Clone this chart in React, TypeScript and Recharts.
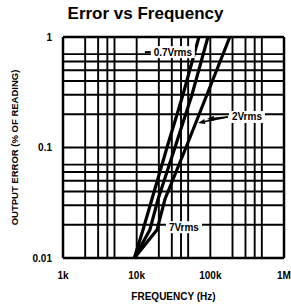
import { LineChart, Line, XAxis, YAxis, CartesianGrid, ReferenceDot, ReferenceLine } from 'recharts';

// Axis ticks and labels
const freqTicks = [1000, 10000, 100000, 1000000];
const freqTickLabels = ['1k', '10k', '100k', '1M'];
const errorTicks = [0.01, 0.1, 1];
const errorTickLabels = ['0.01', '0.1', '1'];

// Log grid lines (1..9 per decade)
const freqGrid = [
  1000, 2000, 3000, 4000, 5000, 6000, 7000, 8000, 9000,
  10000, 20000, 30000, 40000, 50000, 60000, 70000, 80000, 90000,
  100000, 200000, 300000, 400000, 500000, 600000, 700000, 800000, 900000,
  1000000,
];
const errorGrid = [
  0.01, 0.02, 0.03, 0.04, 0.05, 0.06, 0.07, 0.08, 0.09,
  0.1, 0.2, 0.3, 0.4, 0.5, 0.6, 0.7, 0.8, 0.9,
  1,
];

// Curves (Hz, % of reading)
const freq07 = [9300, 12200, 16100, 25800, 42500, 70000];
const err07 = [0.01, 0.018, 0.034, 0.1, 0.3, 1];
const freq2 = [9300, 15100, 19500, 33100, 56300, 92800];
const err2 = [0.01, 0.018, 0.034, 0.1, 0.3, 1];
const freq7 = [9300, 18900, 24200, 46700, 89900, 184000];
const err7 = [0.01, 0.018, 0.034, 0.1, 0.3, 1];

const toPoints = (f: number[], e: number[]) => f.map((v, i) => ({ f: v, e: e[i] }));
const data07 = toPoints(freq07, err07);
const data2 = toPoints(freq2, err2);
const data7 = toPoints(freq7, err7);

const FONT = "'Liberation Sans', Arial, Helvetica, sans-serif";

function BoxLabel({ cx, cy, text, w, lead }: any) {
  return (
    <g>
      {lead && <line x1={cx - w / 2 - 6} y1={cy} x2={cx - w / 2} y2={cy} stroke="#000" strokeWidth={2} />}
      <rect x={cx - w / 2} y={cy - 6} width={w} height={12} fill="#fff" />
      <text
        x={cx}
        y={cy}
        textAnchor="middle"
        dominantBaseline="central"
        fontFamily={FONT}
        fontWeight={700}
        fontSize={10}
        fill="#000"
      >
        {text}
      </text>
    </g>
  );
}

function Arrow(props: any) {
  const { x1, y1, x2, y2 } = props;
  if (x1 == null) return null;
  const dx = x2 - x1;
  const dy = y2 - y1;
  const len = Math.sqrt(dx * dx + dy * dy) || 1;
  const ux = dx / len;
  const uy = dy / len;
  const bx = x2 - ux * 7;
  const by = y2 - uy * 7;
  return (
    <g>
      <line x1={x1} y1={y1} x2={bx} y2={by} stroke="#000" strokeWidth={1.5} />
      <polygon
        points={`${x2},${y2} ${bx - uy * 2.5},${by + ux * 2.5} ${bx + uy * 2.5},${by - ux * 2.5}`}
        fill="#000"
      />
    </g>
  );
}

function YLabel(props: any) {
  const vb = props.viewBox || {};
  const cy = vb.y + vb.height / 2;
  return (
    <text
      x={14}
      y={cy}
      transform={`rotate(-90 14 ${cy})`}
      textAnchor="middle"
      dominantBaseline="central"
      fontFamily={FONT}
      fontWeight={700}
      fontSize={9.5}
      fill="#000"
    >
      OUTPUT ERROR (% OF READING)
    </text>
  );
}

function XLabel(props: any) {
  const vb = props.viewBox || {};
  return (
    <text
      x={vb.x + vb.width / 2}
      y={296}
      textAnchor="middle"
      dominantBaseline="central"
      fontFamily={FONT}
      fontWeight={700}
      fontSize={10}
      fill="#000"
    >
      FREQUENCY (Hz)
    </text>
  );
}

export default function App() {
  return (
    <div style={{ position: 'absolute', left: 0, top: 0, width: 291, height: 308, background: '#fff' }}>
      <div
        style={{
          position: 'absolute',
          left: 0,
          width: 291,
          top: 4,
          textAlign: 'center',
          fontFamily: FONT,
          fontWeight: 700,
          fontSize: 17,
          lineHeight: '20px',
          color: '#000',
        }}
      >
        Error vs Frequency
      </div>
      <LineChart width={291} height={308} margin={{ top: 37, right: 7, left: 0, bottom: 0 }}>
        <CartesianGrid
          horizontalValues={errorGrid}
          verticalValues={freqGrid}
          stroke="#000"
          strokeWidth={1.9}
        />
        <XAxis
          dataKey="f"
          type="number"
          scale="log"
          domain={[1000, 1000000]}
          ticks={freqTicks}
          allowDataOverflow
          height={50}
          axisLine={false}
          tickLine={false}
          tickSize={6}
          tickMargin={8}
          tick={{ fill: '#000', fontSize: 10, fontWeight: 700, fontFamily: FONT }}
          tickFormatter={(v: number) => freqTickLabels[freqTicks.indexOf(v)] ?? ''}
          label={<XLabel />}
        />
        <YAxis
          dataKey="e"
          type="number"
          scale="log"
          domain={[0.01, 1]}
          ticks={errorTicks}
          allowDataOverflow
          width={63}
          axisLine={false}
          tickLine={false}
          tickSize={6}
          tickMargin={5}
          tick={{ fill: '#000', fontSize: 10, fontWeight: 700, fontFamily: FONT }}
          tickFormatter={(v: number) => errorTickLabels[errorTicks.indexOf(v)] ?? ''}
          label={<YLabel />}
        />
        <ReferenceLine x={1000} stroke="#000" strokeWidth={2.5} />
        <ReferenceLine x={1000000} stroke="#000" strokeWidth={2.5} />
        <ReferenceLine y={0.01} stroke="#000" strokeWidth={2.5} />
        <ReferenceLine y={1} stroke="#000" strokeWidth={2.5} />
        <Line data={data07} dataKey="e" type="linear" stroke="#000" strokeWidth={3.2} dot={false} isAnimationActive={false} />
        <Line data={data2} dataKey="e" type="linear" stroke="#000" strokeWidth={3.2} dot={false} isAnimationActive={false} />
        <Line data={data7} dataKey="e" type="linear" stroke="#000" strokeWidth={3.2} dot={false} isAnimationActive={false} />
        <ReferenceLine
          segment={[{ x: 173000, y: 0.189 }, { x: 68000, y: 0.167 }]}
          shape={<Arrow />}
        />
        <ReferenceLine
          segment={[{ x: 173000, y: 0.189 }, { x: 90000, y: 0.181 }]}
          shape={<Arrow />}
        />
        <ReferenceDot
          x={31000}
          y={0.73}
          r={0}
          shape={(p: any) => <BoxLabel cx={p.cx} cy={p.cy} text="0.7Vrms" w={44} lead />}
        />
        <ReferenceDot
          x={314000}
          y={0.189}
          r={0}
          shape={(p: any) => <BoxLabel cx={p.cx} cy={p.cy} text="2Vrms" w={36} />}
        />
        <ReferenceDot
          x={43800}
          y={0.019}
          r={0}
          shape={(p: any) => <BoxLabel cx={p.cx} cy={p.cy} text="7Vrms" w={36} />}
        />
      </LineChart>
    </div>
  );
}
